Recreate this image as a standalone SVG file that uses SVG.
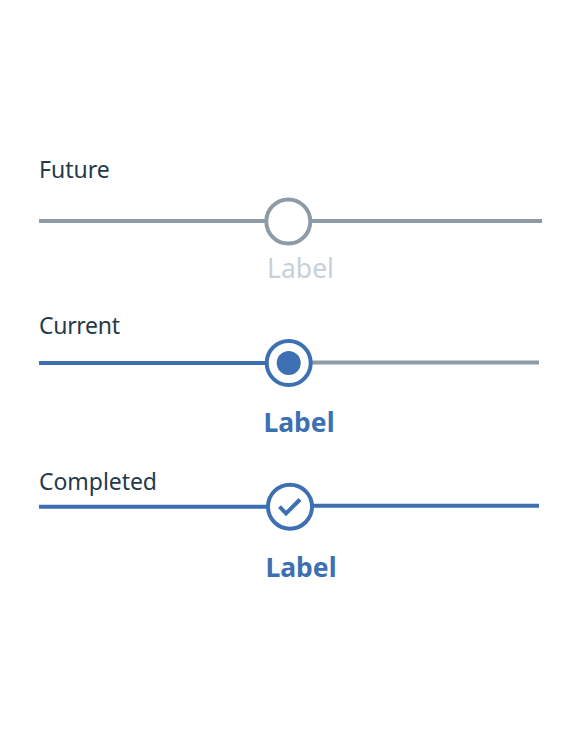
<svg xmlns="http://www.w3.org/2000/svg" width="580" height="742" viewBox="0 0 580 742">
<style>
text{font-family:"Noto Sans","Open Sans","Liberation Sans",sans-serif}
.h{font-size:23px;fill:#253a47}
.l{font-size:26.500px;text-anchor:middle}
.b{font-weight:700;fill:#3d70b2}
.g{fill:#c7d0d8}
.ln{fill:none;stroke-width:4}
.blue{stroke:#3d70b2}
.grey{stroke:#8d9ba7}
.c{fill:#fff;stroke-width:4}
</style>
<rect width="580" height="742" fill="#fff"/>
<g id="connectors">
<path class="ln grey" d="M39 221H266M311 221H542"/>
<path class="ln blue" d="M39 363H266"/>
<path class="ln grey" d="M311 362.500H539"/>
<path class="ln blue" d="M39 506.700H268"/>
<path class="ln blue" d="M312 505.700H539"/>
</g>
<g id="future">
<text class="h" x="39" y="178">Future</text>
<circle class="c grey" cx="288.300" cy="221.500" r="22"/>
<text class="l g" x="300.500" y="278">Label</text>
</g>
<g id="current">
<text class="h" x="39" y="334" textLength="81">Current</text>
<circle class="c blue" cx="288.700" cy="363" r="22"/>
<circle cx="288.700" cy="363" r="12" fill="#3d70b2"/>
<text class="l b" x="299" y="432">Label</text>
</g>
<g id="completed">
<text class="h" x="39" y="490" textLength="118">Completed</text>
<circle class="c blue" cx="290" cy="506.700" r="22"/>
<path d="M279.500 506.700L286 513.500L300 499.500" fill="none" stroke="#3d70b2" stroke-width="4"/>
<text class="l b" x="301" y="577">Label</text>
</g>
</svg>
